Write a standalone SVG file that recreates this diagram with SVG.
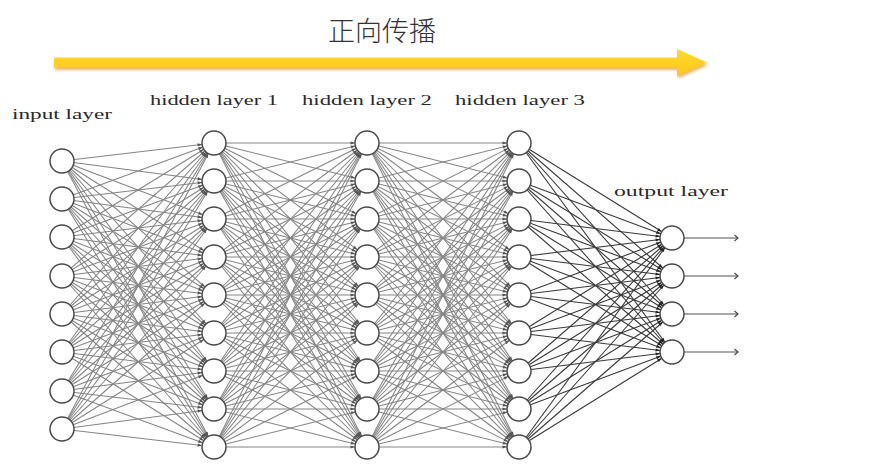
<svg xmlns="http://www.w3.org/2000/svg" width="876" height="470" viewBox="0 0 876 470">
<style>
.e line{stroke:#858585;stroke-width:1.05;marker-end:url(#ah)}
.d line{stroke:#3a3a3a;stroke-width:1.1;marker-end:url(#ah2)}
.n circle{fill:#fff;stroke:#4a4a4a;stroke-width:1.5}
.lbl{font-family:"Liberation Serif","DejaVu Serif",serif;font-size:15px;fill:#2a2a2a}
.out line{stroke:#555;stroke-width:1.1;marker-end:url(#oa)}
</style>
<defs>
<marker id="ah" markerUnits="userSpaceOnUse" markerWidth="24" markerHeight="24" refX="16.5" refY="0" orient="auto" overflow="visible"><path d="M0,-1.6L4.5,0L0,1.6z" fill="#555"/></marker>
<marker id="ah2" markerUnits="userSpaceOnUse" markerWidth="24" markerHeight="24" refX="16.5" refY="0" orient="auto" overflow="visible"><path d="M0,-1.6L4.5,0L0,1.6z" fill="#222"/></marker>
<marker id="oa" markerUnits="userSpaceOnUse" markerWidth="10" markerHeight="10" refX="0" refY="0" orient="auto" overflow="visible"><path d="M-3.5,-3L0,0L-3.5,3" fill="none" stroke="#444" stroke-width="1.1"/></marker>
<filter id="sh" x="-5%" y="-100%" width="110%" height="300%"><feGaussianBlur stdDeviation="1.6"/></filter>
<linearGradient id="yg" x1="0" y1="0" x2="0" y2="1"><stop offset="0" stop-color="#FFDA2A"/><stop offset="1" stop-color="#FFC61A"/></linearGradient>
</defs>
<rect width="876" height="470" fill="#fff"/>
<g id="title">
<text x="382" y="41" text-anchor="middle" font-family="'Noto Sans CJK SC',sans-serif" font-size="27" font-weight="300" fill="#333">正向传播</text>
</g>
<g id="forward-arrow">
<path d="M54,58.5H677V50L707,63.5L677,77V68.5H54z" fill="#E39A3A" opacity="0.75" filter="url(#sh)" transform="translate(1,1.5)"/>
<path d="M54,57.5H677V49L707,62.5L677,76V67.5H54z" fill="url(#yg)"/>
</g>
<g id="labels">
<text class="lbl" x="12" y="119" textLength="100" lengthAdjust="spacingAndGlyphs">input layer</text>
<text class="lbl" x="150" y="105" textLength="128" lengthAdjust="spacingAndGlyphs">hidden layer 1</text>
<text class="lbl" x="302" y="105" textLength="130" lengthAdjust="spacingAndGlyphs">hidden layer 2</text>
<text class="lbl" x="455" y="105" textLength="130" lengthAdjust="spacingAndGlyphs">hidden layer 3</text>
<text class="lbl" x="614" y="196" textLength="114" lengthAdjust="spacingAndGlyphs">output layer</text>
</g>
<g id="connectors">
<g class="e">
<line x1="62" y1="161" x2="214" y2="143"/><line x1="62" y1="161" x2="214" y2="181"/><line x1="62" y1="161" x2="214" y2="219"/><line x1="62" y1="161" x2="214" y2="257"/><line x1="62" y1="161" x2="214" y2="295"/><line x1="62" y1="161" x2="214" y2="333"/><line x1="62" y1="161" x2="214" y2="371"/><line x1="62" y1="161" x2="214" y2="409"/><line x1="62" y1="161" x2="214" y2="447"/>
<line x1="62" y1="199" x2="214" y2="143"/><line x1="62" y1="199" x2="214" y2="181"/><line x1="62" y1="199" x2="214" y2="219"/><line x1="62" y1="199" x2="214" y2="257"/><line x1="62" y1="199" x2="214" y2="295"/><line x1="62" y1="199" x2="214" y2="333"/><line x1="62" y1="199" x2="214" y2="371"/><line x1="62" y1="199" x2="214" y2="409"/><line x1="62" y1="199" x2="214" y2="447"/>
<line x1="62" y1="237" x2="214" y2="143"/><line x1="62" y1="237" x2="214" y2="181"/><line x1="62" y1="237" x2="214" y2="219"/><line x1="62" y1="237" x2="214" y2="257"/><line x1="62" y1="237" x2="214" y2="295"/><line x1="62" y1="237" x2="214" y2="333"/><line x1="62" y1="237" x2="214" y2="371"/><line x1="62" y1="237" x2="214" y2="409"/><line x1="62" y1="237" x2="214" y2="447"/>
<line x1="62" y1="276" x2="214" y2="143"/><line x1="62" y1="276" x2="214" y2="181"/><line x1="62" y1="276" x2="214" y2="219"/><line x1="62" y1="276" x2="214" y2="257"/><line x1="62" y1="276" x2="214" y2="295"/><line x1="62" y1="276" x2="214" y2="333"/><line x1="62" y1="276" x2="214" y2="371"/><line x1="62" y1="276" x2="214" y2="409"/><line x1="62" y1="276" x2="214" y2="447"/>
<line x1="62" y1="314" x2="214" y2="143"/><line x1="62" y1="314" x2="214" y2="181"/><line x1="62" y1="314" x2="214" y2="219"/><line x1="62" y1="314" x2="214" y2="257"/><line x1="62" y1="314" x2="214" y2="295"/><line x1="62" y1="314" x2="214" y2="333"/><line x1="62" y1="314" x2="214" y2="371"/><line x1="62" y1="314" x2="214" y2="409"/><line x1="62" y1="314" x2="214" y2="447"/>
<line x1="62" y1="352" x2="214" y2="143"/><line x1="62" y1="352" x2="214" y2="181"/><line x1="62" y1="352" x2="214" y2="219"/><line x1="62" y1="352" x2="214" y2="257"/><line x1="62" y1="352" x2="214" y2="295"/><line x1="62" y1="352" x2="214" y2="333"/><line x1="62" y1="352" x2="214" y2="371"/><line x1="62" y1="352" x2="214" y2="409"/><line x1="62" y1="352" x2="214" y2="447"/>
<line x1="62" y1="391" x2="214" y2="143"/><line x1="62" y1="391" x2="214" y2="181"/><line x1="62" y1="391" x2="214" y2="219"/><line x1="62" y1="391" x2="214" y2="257"/><line x1="62" y1="391" x2="214" y2="295"/><line x1="62" y1="391" x2="214" y2="333"/><line x1="62" y1="391" x2="214" y2="371"/><line x1="62" y1="391" x2="214" y2="409"/><line x1="62" y1="391" x2="214" y2="447"/>
<line x1="62" y1="429" x2="214" y2="143"/><line x1="62" y1="429" x2="214" y2="181"/><line x1="62" y1="429" x2="214" y2="219"/><line x1="62" y1="429" x2="214" y2="257"/><line x1="62" y1="429" x2="214" y2="295"/><line x1="62" y1="429" x2="214" y2="333"/><line x1="62" y1="429" x2="214" y2="371"/><line x1="62" y1="429" x2="214" y2="409"/><line x1="62" y1="429" x2="214" y2="447"/>
</g>
<g class="e">
<line x1="214" y1="143" x2="367" y2="143"/><line x1="214" y1="143" x2="367" y2="181"/><line x1="214" y1="143" x2="367" y2="219"/><line x1="214" y1="143" x2="367" y2="257"/><line x1="214" y1="143" x2="367" y2="295"/><line x1="214" y1="143" x2="367" y2="333"/><line x1="214" y1="143" x2="367" y2="371"/><line x1="214" y1="143" x2="367" y2="409"/><line x1="214" y1="143" x2="367" y2="447"/>
<line x1="214" y1="181" x2="367" y2="143"/><line x1="214" y1="181" x2="367" y2="181"/><line x1="214" y1="181" x2="367" y2="219"/><line x1="214" y1="181" x2="367" y2="257"/><line x1="214" y1="181" x2="367" y2="295"/><line x1="214" y1="181" x2="367" y2="333"/><line x1="214" y1="181" x2="367" y2="371"/><line x1="214" y1="181" x2="367" y2="409"/><line x1="214" y1="181" x2="367" y2="447"/>
<line x1="214" y1="219" x2="367" y2="143"/><line x1="214" y1="219" x2="367" y2="181"/><line x1="214" y1="219" x2="367" y2="219"/><line x1="214" y1="219" x2="367" y2="257"/><line x1="214" y1="219" x2="367" y2="295"/><line x1="214" y1="219" x2="367" y2="333"/><line x1="214" y1="219" x2="367" y2="371"/><line x1="214" y1="219" x2="367" y2="409"/><line x1="214" y1="219" x2="367" y2="447"/>
<line x1="214" y1="257" x2="367" y2="143"/><line x1="214" y1="257" x2="367" y2="181"/><line x1="214" y1="257" x2="367" y2="219"/><line x1="214" y1="257" x2="367" y2="257"/><line x1="214" y1="257" x2="367" y2="295"/><line x1="214" y1="257" x2="367" y2="333"/><line x1="214" y1="257" x2="367" y2="371"/><line x1="214" y1="257" x2="367" y2="409"/><line x1="214" y1="257" x2="367" y2="447"/>
<line x1="214" y1="295" x2="367" y2="143"/><line x1="214" y1="295" x2="367" y2="181"/><line x1="214" y1="295" x2="367" y2="219"/><line x1="214" y1="295" x2="367" y2="257"/><line x1="214" y1="295" x2="367" y2="295"/><line x1="214" y1="295" x2="367" y2="333"/><line x1="214" y1="295" x2="367" y2="371"/><line x1="214" y1="295" x2="367" y2="409"/><line x1="214" y1="295" x2="367" y2="447"/>
<line x1="214" y1="333" x2="367" y2="143"/><line x1="214" y1="333" x2="367" y2="181"/><line x1="214" y1="333" x2="367" y2="219"/><line x1="214" y1="333" x2="367" y2="257"/><line x1="214" y1="333" x2="367" y2="295"/><line x1="214" y1="333" x2="367" y2="333"/><line x1="214" y1="333" x2="367" y2="371"/><line x1="214" y1="333" x2="367" y2="409"/><line x1="214" y1="333" x2="367" y2="447"/>
<line x1="214" y1="371" x2="367" y2="143"/><line x1="214" y1="371" x2="367" y2="181"/><line x1="214" y1="371" x2="367" y2="219"/><line x1="214" y1="371" x2="367" y2="257"/><line x1="214" y1="371" x2="367" y2="295"/><line x1="214" y1="371" x2="367" y2="333"/><line x1="214" y1="371" x2="367" y2="371"/><line x1="214" y1="371" x2="367" y2="409"/><line x1="214" y1="371" x2="367" y2="447"/>
<line x1="214" y1="409" x2="367" y2="143"/><line x1="214" y1="409" x2="367" y2="181"/><line x1="214" y1="409" x2="367" y2="219"/><line x1="214" y1="409" x2="367" y2="257"/><line x1="214" y1="409" x2="367" y2="295"/><line x1="214" y1="409" x2="367" y2="333"/><line x1="214" y1="409" x2="367" y2="371"/><line x1="214" y1="409" x2="367" y2="409"/><line x1="214" y1="409" x2="367" y2="447"/>
<line x1="214" y1="447" x2="367" y2="143"/><line x1="214" y1="447" x2="367" y2="181"/><line x1="214" y1="447" x2="367" y2="219"/><line x1="214" y1="447" x2="367" y2="257"/><line x1="214" y1="447" x2="367" y2="295"/><line x1="214" y1="447" x2="367" y2="333"/><line x1="214" y1="447" x2="367" y2="371"/><line x1="214" y1="447" x2="367" y2="409"/><line x1="214" y1="447" x2="367" y2="447"/>
</g>
<g class="e">
<line x1="367" y1="143" x2="519" y2="143"/><line x1="367" y1="143" x2="519" y2="181"/><line x1="367" y1="143" x2="519" y2="219"/><line x1="367" y1="143" x2="519" y2="257"/><line x1="367" y1="143" x2="519" y2="295"/><line x1="367" y1="143" x2="519" y2="333"/><line x1="367" y1="143" x2="519" y2="371"/><line x1="367" y1="143" x2="519" y2="409"/><line x1="367" y1="143" x2="519" y2="447"/>
<line x1="367" y1="181" x2="519" y2="143"/><line x1="367" y1="181" x2="519" y2="181"/><line x1="367" y1="181" x2="519" y2="219"/><line x1="367" y1="181" x2="519" y2="257"/><line x1="367" y1="181" x2="519" y2="295"/><line x1="367" y1="181" x2="519" y2="333"/><line x1="367" y1="181" x2="519" y2="371"/><line x1="367" y1="181" x2="519" y2="409"/><line x1="367" y1="181" x2="519" y2="447"/>
<line x1="367" y1="219" x2="519" y2="143"/><line x1="367" y1="219" x2="519" y2="181"/><line x1="367" y1="219" x2="519" y2="219"/><line x1="367" y1="219" x2="519" y2="257"/><line x1="367" y1="219" x2="519" y2="295"/><line x1="367" y1="219" x2="519" y2="333"/><line x1="367" y1="219" x2="519" y2="371"/><line x1="367" y1="219" x2="519" y2="409"/><line x1="367" y1="219" x2="519" y2="447"/>
<line x1="367" y1="257" x2="519" y2="143"/><line x1="367" y1="257" x2="519" y2="181"/><line x1="367" y1="257" x2="519" y2="219"/><line x1="367" y1="257" x2="519" y2="257"/><line x1="367" y1="257" x2="519" y2="295"/><line x1="367" y1="257" x2="519" y2="333"/><line x1="367" y1="257" x2="519" y2="371"/><line x1="367" y1="257" x2="519" y2="409"/><line x1="367" y1="257" x2="519" y2="447"/>
<line x1="367" y1="295" x2="519" y2="143"/><line x1="367" y1="295" x2="519" y2="181"/><line x1="367" y1="295" x2="519" y2="219"/><line x1="367" y1="295" x2="519" y2="257"/><line x1="367" y1="295" x2="519" y2="295"/><line x1="367" y1="295" x2="519" y2="333"/><line x1="367" y1="295" x2="519" y2="371"/><line x1="367" y1="295" x2="519" y2="409"/><line x1="367" y1="295" x2="519" y2="447"/>
<line x1="367" y1="333" x2="519" y2="143"/><line x1="367" y1="333" x2="519" y2="181"/><line x1="367" y1="333" x2="519" y2="219"/><line x1="367" y1="333" x2="519" y2="257"/><line x1="367" y1="333" x2="519" y2="295"/><line x1="367" y1="333" x2="519" y2="333"/><line x1="367" y1="333" x2="519" y2="371"/><line x1="367" y1="333" x2="519" y2="409"/><line x1="367" y1="333" x2="519" y2="447"/>
<line x1="367" y1="371" x2="519" y2="143"/><line x1="367" y1="371" x2="519" y2="181"/><line x1="367" y1="371" x2="519" y2="219"/><line x1="367" y1="371" x2="519" y2="257"/><line x1="367" y1="371" x2="519" y2="295"/><line x1="367" y1="371" x2="519" y2="333"/><line x1="367" y1="371" x2="519" y2="371"/><line x1="367" y1="371" x2="519" y2="409"/><line x1="367" y1="371" x2="519" y2="447"/>
<line x1="367" y1="409" x2="519" y2="143"/><line x1="367" y1="409" x2="519" y2="181"/><line x1="367" y1="409" x2="519" y2="219"/><line x1="367" y1="409" x2="519" y2="257"/><line x1="367" y1="409" x2="519" y2="295"/><line x1="367" y1="409" x2="519" y2="333"/><line x1="367" y1="409" x2="519" y2="371"/><line x1="367" y1="409" x2="519" y2="409"/><line x1="367" y1="409" x2="519" y2="447"/>
<line x1="367" y1="447" x2="519" y2="143"/><line x1="367" y1="447" x2="519" y2="181"/><line x1="367" y1="447" x2="519" y2="219"/><line x1="367" y1="447" x2="519" y2="257"/><line x1="367" y1="447" x2="519" y2="295"/><line x1="367" y1="447" x2="519" y2="333"/><line x1="367" y1="447" x2="519" y2="371"/><line x1="367" y1="447" x2="519" y2="409"/><line x1="367" y1="447" x2="519" y2="447"/>
</g>
<g class="d">
<line x1="519" y1="143" x2="672" y2="238"/><line x1="519" y1="143" x2="672" y2="276"/><line x1="519" y1="143" x2="672" y2="314"/><line x1="519" y1="143" x2="672" y2="352"/>
<line x1="519" y1="181" x2="672" y2="238"/><line x1="519" y1="181" x2="672" y2="276"/><line x1="519" y1="181" x2="672" y2="314"/><line x1="519" y1="181" x2="672" y2="352"/>
<line x1="519" y1="219" x2="672" y2="238"/><line x1="519" y1="219" x2="672" y2="276"/><line x1="519" y1="219" x2="672" y2="314"/><line x1="519" y1="219" x2="672" y2="352"/>
<line x1="519" y1="257" x2="672" y2="238"/><line x1="519" y1="257" x2="672" y2="276"/><line x1="519" y1="257" x2="672" y2="314"/><line x1="519" y1="257" x2="672" y2="352"/>
<line x1="519" y1="295" x2="672" y2="238"/><line x1="519" y1="295" x2="672" y2="276"/><line x1="519" y1="295" x2="672" y2="314"/><line x1="519" y1="295" x2="672" y2="352"/>
<line x1="519" y1="333" x2="672" y2="238"/><line x1="519" y1="333" x2="672" y2="276"/><line x1="519" y1="333" x2="672" y2="314"/><line x1="519" y1="333" x2="672" y2="352"/>
<line x1="519" y1="371" x2="672" y2="238"/><line x1="519" y1="371" x2="672" y2="276"/><line x1="519" y1="371" x2="672" y2="314"/><line x1="519" y1="371" x2="672" y2="352"/>
<line x1="519" y1="409" x2="672" y2="238"/><line x1="519" y1="409" x2="672" y2="276"/><line x1="519" y1="409" x2="672" y2="314"/><line x1="519" y1="409" x2="672" y2="352"/>
<line x1="519" y1="447" x2="672" y2="238"/><line x1="519" y1="447" x2="672" y2="276"/><line x1="519" y1="447" x2="672" y2="314"/><line x1="519" y1="447" x2="672" y2="352"/>
</g>
<g class="out">
<line x1="684" y1="238" x2="738" y2="238"/><line x1="684" y1="276" x2="738" y2="276"/><line x1="684" y1="314" x2="738" y2="314"/><line x1="684" y1="352" x2="738" y2="352"/>
</g>
</g>
<g class="n">
<g id="in1"><circle cx="62" cy="161" r="12"/></g>
<g id="in2"><circle cx="62" cy="199" r="12"/></g>
<g id="in3"><circle cx="62" cy="237" r="12"/></g>
<g id="in4"><circle cx="62" cy="276" r="12"/></g>
<g id="in5"><circle cx="62" cy="314" r="12"/></g>
<g id="in6"><circle cx="62" cy="352" r="12"/></g>
<g id="in7"><circle cx="62" cy="391" r="12"/></g>
<g id="in8"><circle cx="62" cy="429" r="12"/></g>
<g id="h1n1"><circle cx="214" cy="143" r="12"/></g>
<g id="h1n2"><circle cx="214" cy="181" r="12"/></g>
<g id="h1n3"><circle cx="214" cy="219" r="12"/></g>
<g id="h1n4"><circle cx="214" cy="257" r="12"/></g>
<g id="h1n5"><circle cx="214" cy="295" r="12"/></g>
<g id="h1n6"><circle cx="214" cy="333" r="12"/></g>
<g id="h1n7"><circle cx="214" cy="371" r="12"/></g>
<g id="h1n8"><circle cx="214" cy="409" r="12"/></g>
<g id="h1n9"><circle cx="214" cy="447" r="12"/></g>
<g id="h2n1"><circle cx="367" cy="143" r="12"/></g>
<g id="h2n2"><circle cx="367" cy="181" r="12"/></g>
<g id="h2n3"><circle cx="367" cy="219" r="12"/></g>
<g id="h2n4"><circle cx="367" cy="257" r="12"/></g>
<g id="h2n5"><circle cx="367" cy="295" r="12"/></g>
<g id="h2n6"><circle cx="367" cy="333" r="12"/></g>
<g id="h2n7"><circle cx="367" cy="371" r="12"/></g>
<g id="h2n8"><circle cx="367" cy="409" r="12"/></g>
<g id="h2n9"><circle cx="367" cy="447" r="12"/></g>
<g id="h3n1"><circle cx="519" cy="143" r="12"/></g>
<g id="h3n2"><circle cx="519" cy="181" r="12"/></g>
<g id="h3n3"><circle cx="519" cy="219" r="12"/></g>
<g id="h3n4"><circle cx="519" cy="257" r="12"/></g>
<g id="h3n5"><circle cx="519" cy="295" r="12"/></g>
<g id="h3n6"><circle cx="519" cy="333" r="12"/></g>
<g id="h3n7"><circle cx="519" cy="371" r="12"/></g>
<g id="h3n8"><circle cx="519" cy="409" r="12"/></g>
<g id="h3n9"><circle cx="519" cy="447" r="12"/></g>
<g id="out1"><circle cx="672" cy="238" r="12"/></g>
<g id="out2"><circle cx="672" cy="276" r="12"/></g>
<g id="out3"><circle cx="672" cy="314" r="12"/></g>
<g id="out4"><circle cx="672" cy="352" r="12"/></g>
</g>
</svg>
